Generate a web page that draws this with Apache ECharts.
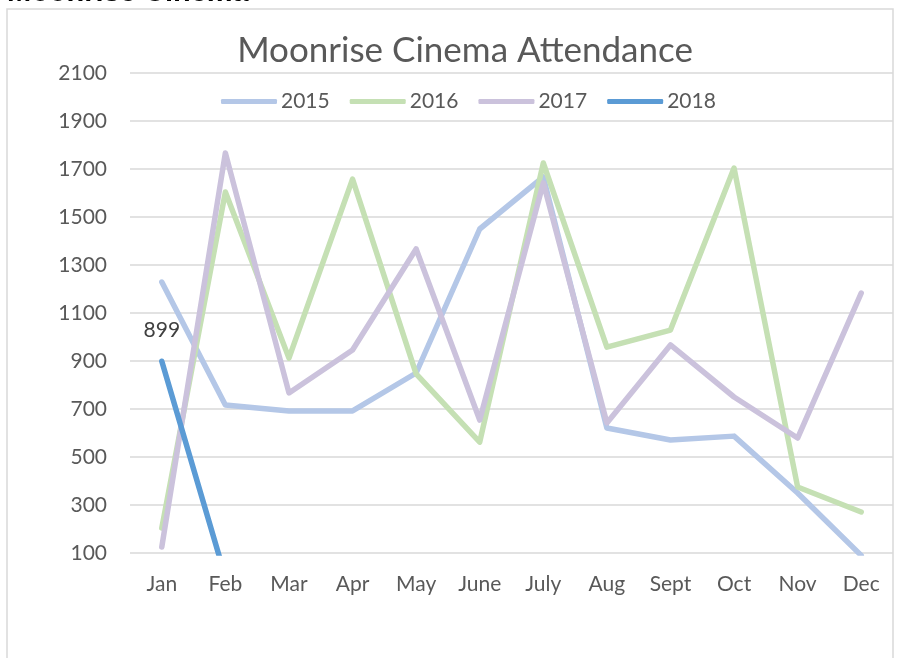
<!DOCTYPE html>
<html><head><meta charset="utf-8">
<script src="https://cdn.jsdelivr.net/npm/echarts@6/dist/echarts.min.js"></script>
<style>html,body{margin:0;padding:0;background:#fff}#c{width:899px;height:658px}</style>
</head><body><div id="c"></div>
<script>
const months = ['Jan','Feb','Mar','Apr','May','June','July','Aug','Sept','Oct','Nov','Dec'];
const s2015 = [1229, 717, 692, 692, 850, 1450, 1667, 621, 571, 587, 350, 90];
const s2016 = [204, 1604, 912, 1658, 846, 562, 1725, 958, 1029, 1704, 375, 271];
const s2017 = [125, 1767, 767, 946, 1367, 654, 1642, 642, 967, 750, 579, 1183];
const s2018 = [899, 0, null, null, null, null, null, null, null, null, null, null];
const yTicks = {min: 100, max: 2100, interval: 200};

const FONT = 'Lato';
const chart = echarts.init(document.getElementById('c'), null, {renderer: 'canvas'});
function line(name, data, color, extra) {
  return Object.assign({
    name, type: 'line', data, symbol: 'none', clip: true,
    lineStyle: {color, width: 5.5, cap: 'round', join: 'round'},
    itemStyle: {color}, connectNulls: false
  }, extra || {});
}
chart.setOption({
  animation: false,
  textStyle: {fontFamily: FONT},
  title: {text: 'Moonrise Cinema Attendance', left: 460, top: 28, textAlign: 'center',
    textStyle: {fontFamily: FONT, fontSize: 35, fontWeight: 'normal', color: '#595959'}},
  legend: {top: 86, left: 216, itemWidth: 56, itemHeight: 5, itemGap: 20, icon: 'roundRect',
    textStyle: {fontFamily: FONT, fontSize: 21, color: '#595959', padding: [0,0,0,-1]},
    data: ['2015','2016','2017','2018']},
  grid: {left: 130, right: 6, top: 73, bottom: 105, containLabel: false},
  xAxis: {type: 'category', data: months, boundaryGap: true,
    axisLine: {show: false}, axisTick: {show: false},
    axisLabel: {fontFamily: FONT, fontSize: 21, color: '#595959', margin: 21}},
  yAxis: {type: 'value', min: yTicks.min, max: yTicks.max, interval: yTicks.interval,
    axisLine: {show: false}, axisTick: {show: false},
    axisLabel: {fontFamily: FONT, fontSize: 21, color: '#595959', margin: 23, formatter: v => String(v)},
    splitLine: {lineStyle: {color: '#D9D9D9', width: 1.5}}},
  graphic: [
    {type: 'rect', shape: {x: 7, y: 9, width: 886, height: 700}, style: {fill: 'none', stroke: '#D9D9D9', lineWidth: 1.5}, z: -1},
    {type: 'text', left: 7, top: -22, style: {text: 'Moonrise Cinema', font: 'bold 29px "Liberation Sans", Arial', fill: '#000'}}
  ],
  series: [
    line('2015', s2015, '#B4C7E7'),
    line('2016', s2016, '#C5E0B4'),
    line('2017', s2017, '#CBC2DC'),
    line('2018', s2018, '#5B9BD5', {
      symbol: 'circle', symbolSize: 1, showSymbol: true,
      label: {show: true, position: 'top', distance: 20, fontFamily: FONT, fontSize: 21, color: '#404040',
        formatter: p => p.dataIndex === 0 ? String(p.value) : ''}
    })
  ]
});
</script></body></html>
